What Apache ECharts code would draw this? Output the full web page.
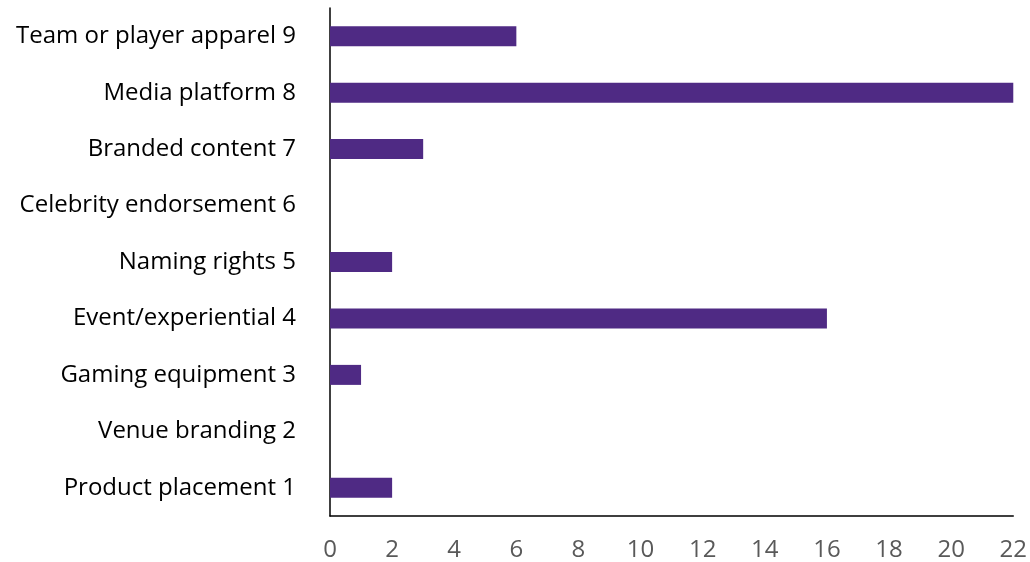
<!DOCTYPE html>
<html>
<head>
<meta charset="utf-8">
<script src="https://cdn.jsdelivr.net/npm/echarts@6/dist/echarts.min.js"></script>
<style>
  html, body { margin: 0; padding: 0; background: #ffffff; }
  #chart { width: 1030px; height: 562px; }
</style>
</head>
<body>
<div id="chart"></div>
<script>
// Sponsorship categories, listed bottom to top
const categories = [
  'Product placement 1',
  'Venue branding 2',
  'Gaming equipment 3',
  'Event/experiential 4',
  'Naming rights 5',
  'Celebrity endorsement 6',
  'Branded content 7',
  'Media platform 8',
  'Team or player apparel 9'
];
const counts = [2, 0, 1, 16, 2, 0, 3, 22, 6];
const xTicks = [0, 2, 4, 6, 8, 10, 12, 14, 16, 18, 20, 22];

const labelFont = '"Open Sans", Lato, sans-serif';

const chart = echarts.init(document.getElementById('chart'), null, { renderer: 'canvas' });
chart.setOption({
  animation: false,
  backgroundColor: '#ffffff',
  grid: { left: 330, right: 15, top: 8, bottom: 46, containLabel: false },
  xAxis: {
    type: 'value',
    min: xTicks[0],
    max: xTicks[xTicks.length - 1],
    interval: 2,
    axisLine: { show: true, lineStyle: { color: '#000000', width: 1.5 } },
    axisTick: { show: false },
    splitLine: { show: false },
    axisLabel: {
      color: '#595959',
      fontFamily: labelFont,
      fontSize: 24,
      margin: 22
    }
  },
  yAxis: {
    type: 'category',
    data: categories,
    axisLine: { show: true, lineStyle: { color: '#000000', width: 1.5 } },
    axisTick: { show: false },
    splitLine: { show: false },
    axisLabel: {
      color: '#000000',
      fontFamily: labelFont,
      fontSize: 24,
      margin: 34
    }
  },
  series: [{
    type: 'bar',
    data: counts,
    barWidth: 20,
    itemStyle: { color: '#4f2a84' }
  }]
});
</script>
</body>
</html>
